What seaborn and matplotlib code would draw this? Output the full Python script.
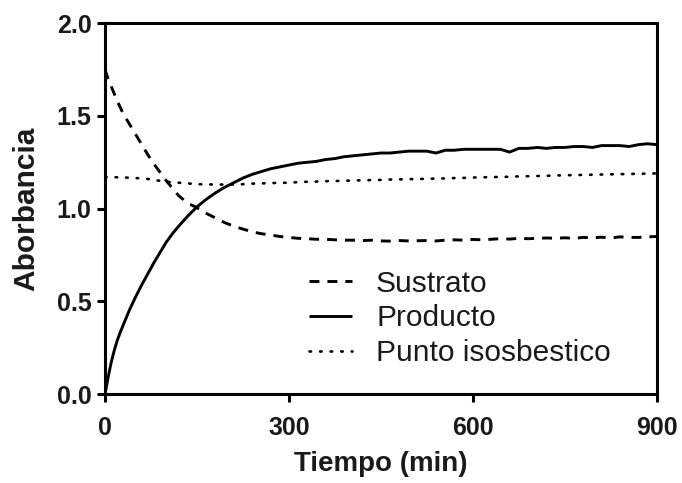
import matplotlib
matplotlib.use("Agg")
import matplotlib.pyplot as plt
import seaborn as sns
import pandas as pd

# Time points (min)
tiempo = [0, 5, 10, 15, 20, 25, 30, 40, 50, 60, 70, 80, 90, 100, 110, 120,
          135, 150, 165, 180, 195, 210, 225, 240, 255, 270, 285, 300, 315,
          330, 345, 360, 375, 390, 405, 420, 435, 450, 465, 480, 495, 510,
          525, 540, 555, 570, 585, 600, 615, 630, 645, 660, 675, 690, 705,
          720, 735, 750, 765, 780, 795, 810, 825, 840, 855, 870, 885, 900]

sustrato = [1.75, 1.70, 1.66, 1.62, 1.58, 1.545, 1.51, 1.455, 1.40, 1.345,
            1.29, 1.24, 1.195, 1.15, 1.11, 1.07, 1.03, 1.005, 0.975, 0.95,
            0.925, 0.905, 0.89, 0.875, 0.865, 0.858, 0.85, 0.845, 0.84, 0.838,
            0.835, 0.835, 0.832, 0.83, 0.83, 0.828, 0.83, 0.826, 0.825, 0.828,
            0.826, 0.827, 0.828, 0.826, 0.83, 0.832, 0.83, 0.834, 0.832, 0.835,
            0.838, 0.836, 0.84, 0.838, 0.84, 0.842, 0.84, 0.843, 0.84, 0.845,
            0.843, 0.846, 0.842, 0.848, 0.845, 0.845, 0.848, 0.85]

producto = [0.0, 0.09, 0.17, 0.235, 0.29, 0.335, 0.375, 0.455, 0.525, 0.59,
            0.65, 0.71, 0.765, 0.82, 0.865, 0.905, 0.96, 1.01, 1.05, 1.085,
            1.115, 1.14, 1.165, 1.185, 1.20, 1.215, 1.225, 1.235, 1.245, 1.25,
            1.255, 1.265, 1.27, 1.28, 1.285, 1.29, 1.295, 1.30, 1.30, 1.305,
            1.31, 1.31, 1.31, 1.30, 1.315, 1.315, 1.32, 1.32, 1.32, 1.32, 1.32,
            1.305, 1.325, 1.325, 1.33, 1.325, 1.33, 1.33, 1.335, 1.335, 1.33,
            1.34, 1.34, 1.34, 1.335, 1.345, 1.35, 1.345]

isosbestico = [1.17, 1.17, 1.17, 1.169, 1.169, 1.168, 1.168, 1.167, 1.165,
               1.163, 1.16, 1.155, 1.15, 1.145, 1.142, 1.14, 1.136, 1.132,
               1.131, 1.13, 1.13, 1.13, 1.132, 1.135, 1.136, 1.138, 1.139,
               1.14, 1.143, 1.145, 1.146, 1.148, 1.149, 1.15, 1.152, 1.153,
               1.154, 1.155, 1.157, 1.158, 1.159, 1.16, 1.161, 1.162, 1.163,
               1.165, 1.166, 1.168, 1.169, 1.17, 1.171, 1.172, 1.174, 1.175,
               1.176, 1.177, 1.179, 1.18, 1.181, 1.182, 1.183, 1.184, 1.185,
               1.186, 1.187, 1.188, 1.189, 1.19]

series = ["Sustrato", "Producto", "Punto isosbestico"]
x_ticks = [0, 300, 600, 900]
y_ticks = [0.0, 0.5, 1.0, 1.5, 2.0]

df = pd.concat([
    pd.DataFrame({"Tiempo": tiempo, "Abs": vals, "Serie": name})
    for name, vals in zip(series, [sustrato, producto, isosbestico])
], ignore_index=True)

sns.set_theme(style="ticks")
plt.rcParams["font.family"] = ["Liberation Sans", "DejaVu Sans"]

fig = plt.figure(figsize=(6.82, 4.83), dpi=100)
ax = fig.add_axes([0.154, 0.184, 0.809, 0.768])

lw = 2.1
dash_styles = {
    "Sustrato": (3.4, 2.75),
    "Producto": "",
    "Punto isosbestico": (0.6, 3.4),
}
sns.lineplot(data=df, x="Tiempo", y="Abs", style="Serie", style_order=series,
             dashes=dash_styles, color="black", linewidth=lw, ax=ax,
             legend=False, estimator=None, sort=False)

lines = ax.get_lines()
for line in lines:
    line.set_solid_capstyle("butt")
    line.set_dash_capstyle("butt")
lines[2].set_dash_capstyle("round")
lines[2].set_linewidth(1.9)

ax.set_xlim(0, 900)
ax.set_ylim(0, 2.0)
ax.set_xticks(x_ticks)
ax.set_yticks(y_ticks)
ax.set_xticklabels([str(v) for v in x_ticks])
ax.set_yticklabels([f"{v:.1f}" for v in y_ticks])

for spine in ax.spines.values():
    spine.set_visible(True)
    spine.set_linewidth(2.2)
    spine.set_color("black")

ax.tick_params(axis="both", which="major", direction="out", length=5.8,
               width=2.2, color="black", labelsize=18, labelcolor="#1a1a1a")
ax.tick_params(axis="x", pad=10)
ax.tick_params(axis="y", pad=4)
for lab in ax.get_xticklabels() + ax.get_yticklabels():
    lab.set_fontweight("bold")

ax.set_xlabel("Tiempo (min)", fontsize=20, fontweight="bold", color="#1a1a1a",
              labelpad=8)
ax.set_ylabel("Aborbancia", fontsize=21.5, fontweight="bold", color="#1a1a1a",
              labelpad=12)

leg = ax.legend(lines[:3], series, loc="upper left",
                bbox_to_anchor=(0.370, 0.335), frameon=False, fontsize=21.5,
                handlelength=1.44, handletextpad=0.8, labelspacing=0.22,
                borderpad=0, borderaxespad=0)
for t in leg.get_texts():
    t.set_color("#1a1a1a")

ax.set_facecolor("white")
fig.patch.set_facecolor("white")
fig.savefig("out.png", dpi=100, facecolor="white")
